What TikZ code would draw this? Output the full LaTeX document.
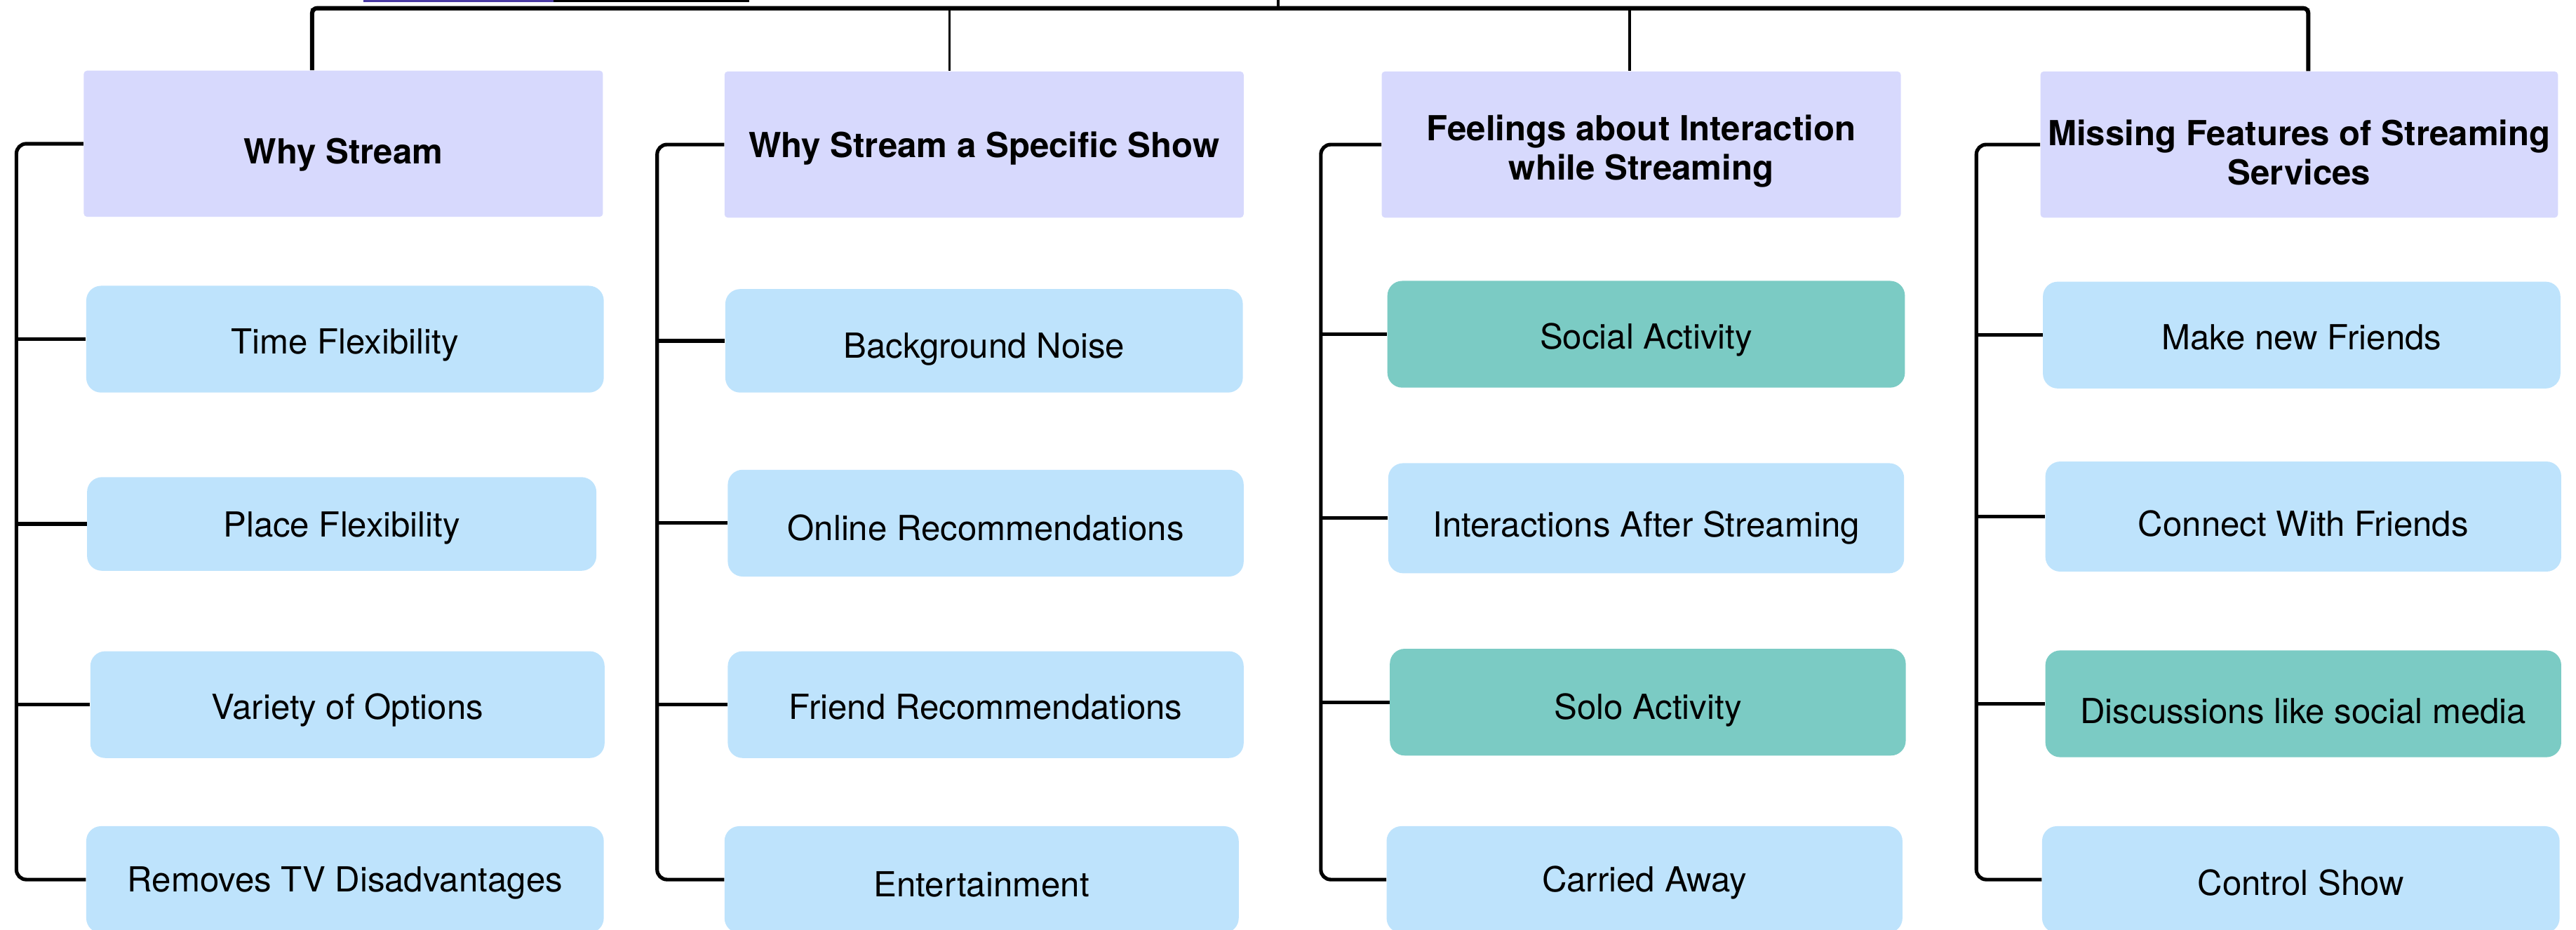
\documentclass[tikz,border=0pt]{standalone}
\usepackage{fontspec}
\setmainfont{TeX Gyre Heros}
\usepackage{xcolor}
\usetikzlibrary{positioning, calc}

\definecolor{topicbg}{HTML}{D7D9FD}
\definecolor{answerbg}{HTML}{BEE3FC}
\definecolor{tealbg}{HTML}{7BCBC4}
\definecolor{rootline}{HTML}{4B3BA5}

\begin{document}
\begin{tikzpicture}[x=1pt, y=1pt,
	topic/.style={fill=topicbg, minimum width=316pt, minimum height=89pt, inner sep=0pt, rounded corners=2pt, align=center, text depth=0pt, font=\bfseries\fontsize{21}{24}\selectfont},
	answer/.style={fill=answerbg, minimum width=315pt, minimum height=65pt, inner sep=0pt, rounded corners=9pt, text height=18pt, text depth=0pt, font=\fontsize{21}{24}\selectfont},
	tealanswer/.style={answer, fill=tealbg},
	bar/.style={line width=2.6pt},
	twig/.style={line width=1.6pt},
	bracketline/.style={line width=2.2pt, rounded corners=6pt}]
	
		\clip (0,0) rectangle (1568,-566);
		
		% why stream
		\node[topic, text height=24pt] (why) at (209,-87.5) {Why Stream};
		\node[answer] (time) at (210,-206.5) {Time Flexibility};
		\node[answer, minimum width=310pt, minimum height=57pt, text height=16pt] (place) at (208,-319) {Place Flexibility};
		\node[answer, minimum width=313pt] (variety) at (211.5,-429) {Variety of Options};
		\node[answer, text height=15pt] (removes) at (210,-535.5) {Removes TV Disadvantages};
		
		% why a specific show
		\node[topic, text height=16pt] (show) at (599,-88) {Why Stream a Specific Show};
		\node[answer, minimum height=63pt, text height=21pt] (noise) at (599,-207.5) {Background Noise};
		\node[answer, minimum width=314pt, text height=21pt] (online) at (600,-318.5) {Online Recommendations};
		\node[answer, minimum width=314pt] (friendrec) at (600,-429) {Friend Recommendations};
		\node[answer, minimum width=313pt, text height=21pt] (fun) at (597.5,-535.5) {Entertainment};
		
		% feelings about interaction
		\node[topic, text height=43pt] (feel) at (999,-88) {Feelings about Interaction\\while Streaming};
		\node[tealanswer] (social) at (1002,-203.5) {Social Activity};
		\node[answer, minimum width=314pt, minimum height=67pt, text height=23pt] (after) at (1002,-315.5) {Interactions After Streaming};
		\node[tealanswer, minimum width=314pt, text height=21pt] (solo) at (1003,-427.5) {Solo Activity};
		\node[answer, minimum width=314pt, text height=15pt] (carried) at (1001,-535.5) {Carried Away};
		
		% missing features
		\node[topic, minimum width=315pt, text height=49pt] (missing) at (1399.5,-88) {Missing Features of Streaming\\Services};
		\node[answer] (newfriends) at (1401,-204) {Make new Friends};
		\node[answer, minimum width=314pt, minimum height=67pt, text height=24pt] (connect) at (1402,-314.5) {Connect With Friends};
		\node[tealanswer, minimum width=314pt, text height=24pt] (discuss) at (1402,-428.5) {Discussions like social media};
		\node[answer, text height=19pt] (control) at (1400.5,-535.5) {Control Show};
		
		% top of the tree
		\coordinate (root) at (778,0);
		\coordinate (t1) at (190,-5);
		\coordinate (t2) at (578,-5);
		\coordinate (t3) at (992,-5);
		\coordinate (t4) at (1405,-5);
		
		\draw[rootline, line width=1.2pt] (221,-0.6) -- (337,-0.6);
		\draw[line width=1.2pt] (337,-0.6) -- (456,-0.6);
		
		\draw[bar, rounded corners=3pt] (t1 |- why.north) -- (t1) -- (t4) -- (t4 |- missing.north);
		\draw[twig] (root) -- (root |- t1);
		\draw[twig] (t1) -- (t1 |- why.north);
		\draw[twig] (t2) -- (t2 |- show.north);
		\draw[twig] (t3) -- (t3 |- feel.north);
		\draw[twig] (t4) -- (t4 |- missing.north);
		
		% brackets down each column
		\coordinate (s1) at (10,0);
		\coordinate (s2) at (400,0);
		\coordinate (s3) at (804,0);
		\coordinate (s4) at (1203,0);
		
		\draw[bracketline] (why.west) -| (s1 |- removes.west) -- (removes.west);
		\draw[bracketline] (show.west) -| (s2 |- fun.west) -- (fun.west);
		\draw[bracketline] (feel.west) -| (s3 |- carried.west) -- (carried.west);
		\draw[bracketline] (missing.west) -| (s4 |- control.west) -- (control.west);
		
		\foreach \n in {time, place, variety}
			\draw[bracketline] (s1 |- \n.west) -- (\n.west);
		\foreach \n in {noise, online, friendrec}
			\draw[bracketline] (s2 |- \n.west) -- (\n.west);
		\foreach \n in {social, after, solo}
			\draw[bracketline] (s3 |- \n.west) -- (\n.west);
		\foreach \n in {newfriends, connect, discuss}
			\draw[bracketline] (s4 |- \n.west) -- (\n.west);
		
	\end{tikzpicture}
\end{document}
